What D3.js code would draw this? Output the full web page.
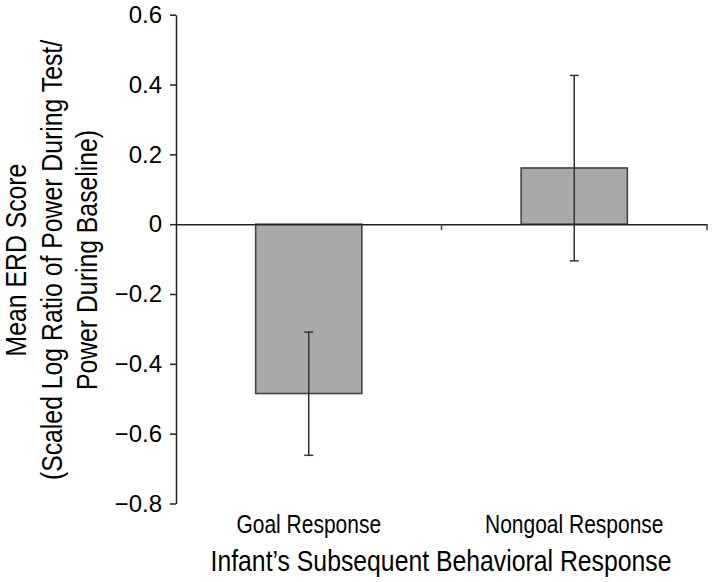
<!DOCTYPE html>
<html>
<head>
<meta charset="utf-8">
<script src="https://cdn.jsdelivr.net/npm/d3@7"></script>
<style>
  body { margin: 0; background: #fff; }
  svg { display: block; }
  text { font-family: "Liberation Sans", Arial, Helvetica, sans-serif; fill: #000; }
</style>
</head>
<body>
<svg id="chart" width="712" height="582"></svg>
<script>
const categories = ["Goal Response", "Nongoal Response"];
const means = [-0.485, 0.161];
const errUpper = [-0.309, 0.426];
const errLower = [-0.662, -0.105];
const yTicks = [0.6, 0.4, 0.2, 0, -0.2, -0.4, -0.6, -0.8];
const xTitle = "Infant’s Subsequent Behavioral Response";
const yTitleLines = ["Mean ERD Score", "(Scaled Log Ratio of Power During Test/", "Power During Baseline)"];

(function () {
const svg = d3.select("#chart");
const mLeft = 176, mRight = 707, mTop = 14.7, mBottom = 503.5;
const CONDENSE = 0.84;

const y = d3.scaleLinear().domain([-0.8, 0.6]).range([mBottom, mTop]);
const x = d3.scaleBand().domain(categories).range([mLeft, mRight]).padding(0);
const barW = x.bandwidth() * 0.4;

const fmt = v => v === 0 ? "0" : d3.format(".1f")(v).replace("-", "−");

// y axis
const yAxis = svg.append("g").attr("transform", `translate(${mLeft},0)`)
  .call(d3.axisLeft(y).tickValues(yTicks).tickFormat(fmt).tickSize(6).tickSizeOuter(0).tickPadding(8));
yAxis.select(".domain").attr("stroke", "#222").attr("stroke-width", 1.5);
yAxis.selectAll(".tick line").attr("stroke", "#222").attr("stroke-width", 1.5);
yAxis.selectAll(".tick text").style("font-size", "24px").attr("fill", "#000")
  .attr("font-family", "'Liberation Sans', Arial, sans-serif");

// bars
svg.append("g").selectAll("rect").data(categories).join("rect")
  .attr("x", d => x(d) + x.bandwidth() / 2 - barW / 2)
  .attr("width", barW)
  .attr("y", (d, i) => y(Math.max(0, means[i])))
  .attr("height", (d, i) => Math.abs(y(means[i]) - y(0)))
  .attr("fill", "#a9a9a9")
  .attr("stroke", "#444")
  .attr("stroke-width", 1.6);

// zero line (x axis)
const xAxis = svg.append("g").attr("transform", `translate(0,${y(0)})`)
  .call(d3.axisBottom(x).tickSize(0).tickFormat(""));
xAxis.select(".domain").attr("stroke", "#222").attr("stroke-width", 1.5);
xAxis.selectAll(".tick").remove();
// category boundary ticks
svg.append("g").selectAll("line").data([categories[1], null]).join("line")
  .attr("x1", d => d ? x(d) : x.range()[1])
  .attr("x2", d => d ? x(d) : x.range()[1])
  .attr("y1", y(0)).attr("y2", y(0) + 6)
  .attr("stroke", "#444").attr("stroke-width", 1.5);

// error bars
const eb = svg.append("g").attr("stroke", "#333").attr("stroke-width", 1.5);
categories.forEach((c, i) => {
  const cx = x(c) + x.bandwidth() / 2;
  eb.append("line").attr("x1", cx).attr("x2", cx).attr("y1", y(errUpper[i])).attr("y2", y(errLower[i]));
  eb.append("line").attr("x1", cx - 4.5).attr("x2", cx + 4.5).attr("y1", y(errUpper[i])).attr("y2", y(errUpper[i]));
  eb.append("line").attr("x1", cx - 4.5).attr("x2", cx + 4.5).attr("y1", y(errLower[i])).attr("y2", y(errLower[i]));
});

// category labels
svg.append("g").selectAll("text").data(categories).join("text")
  .attr("transform", d => `translate(${x(d) + x.bandwidth() / 2},533) scale(${CONDENSE},1)`)
  .attr("text-anchor", "middle")
  .style("font-size", "25px")
  .text(d => d);

// x title
svg.append("text")
  .attr("transform", `translate(441,571) scale(${CONDENSE},1)`)
  .attr("text-anchor", "middle")
  .style("font-size", "29.5px")
  .text(xTitle);

// y title
svg.append("g").selectAll("text").data(yTitleLines).join("text")
  .attr("transform", (d, i) => `translate(${26 + i * 35.5},260) rotate(-90) scale(${CONDENSE},1)`)
  .attr("text-anchor", "middle")
  .style("font-size", "29.5px")
  .text(d => d);
})();
</script>
</body>
</html>
